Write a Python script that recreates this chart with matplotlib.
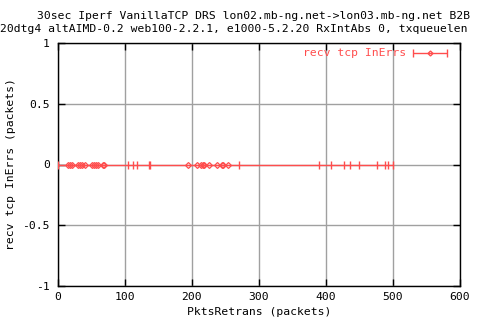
import matplotlib
matplotlib.use("Agg")
import matplotlib.pyplot as plt
import numpy as np

plt.rcParams['font.family'] = ['DejaVu Sans Mono']

# retransmitted packets (x) and receive errors (y)
pkts_diamond = [15, 18, 21, 30, 33, 36, 40, 51, 54, 57, 60, 67, 69,
                194, 207, 214, 216, 218, 225, 237, 245, 246, 253]
pkts_tick = [0, 104, 112, 118, 136, 137, 270, 390, 407, 427, 436, 449,
             476, 488, 492, 500]
in_errs_diamond = [0] * len(pkts_diamond)
in_errs_tick = [0] * len(pkts_tick)

x_ticks = [0, 100, 200, 300, 400, 500, 600]
y_ticks = [-1, -0.5, 0, 0.5, 1]
y_labels = ["-1", "-0.5", "0", "0.5", "1"]

title1 = "30sec Iperf VanillaTCP DRS lon02.mb-ng.net->lon03.mb-ng.net B2B"
title2 = "20dtg4 altAIMD-0.2 web100-2.2.1, e1000-5.2.20 RxIntAbs 0, txqueuelen"

red = "#ff4d4d"
fs = 8.2

fig = plt.figure(figsize=(4.8, 3.2), dpi=100)
ax = fig.add_axes([58 / 480, 34 / 320, 402 / 480, 243 / 320])

# connecting line through all points
all_x = sorted(pkts_diamond + pkts_tick)
ax.plot(all_x, [0] * len(all_x), color=red, linewidth=1, zorder=3)
ax.plot(pkts_diamond, in_errs_diamond, linestyle="none", marker="D",
        markersize=3, markerfacecolor="none", markeredgecolor=red,
        markeredgewidth=0.9, zorder=4)
ax.plot(pkts_tick, in_errs_tick, linestyle="none", marker="|",
        markersize=6, color=red, markeredgewidth=1, zorder=4)

ax.set_xlim(0, 600)
ax.set_ylim(-1, 1)
ax.set_xticks(x_ticks)
ax.set_yticks(y_ticks)
ax.set_yticklabels(y_labels)
ax.grid(True, color="#a0a0a0", linewidth=1)
ax.tick_params(direction="in", length=5, width=1, top=True, right=True,
               labelsize=fs)
ax.tick_params(axis="x", pad=4)
ax.tick_params(axis="y", pad=6)
for s in ax.spines.values():
    s.set_linewidth(1)

ax.set_xlabel("PktsRetrans (packets)", fontsize=fs)
ax.set_ylabel("recv tcp InErrs (packets)", fontsize=fs)
ax.xaxis.set_label_coords(0.5, -(312 - 286) / 243)
ax.yaxis.set_label_coords(-(58 - 11) / 402, 0.5)
ax.xaxis.label.set_va("center")
ax.yaxis.label.set_va("center")

fig.text(37 / 480, 1 - 16 / 320, title1, fontsize=fs, ha="left", va="center")
fig.text(0, 1 - 29 / 320, title2, fontsize=fs, ha="left", va="center")

# legend in gnuplot style
fig.text(406 / 480, 1 - 53 / 320, "recv tcp InErrs", color=red, fontsize=fs,
         ha="right", va="center")
ax.errorbar([((430 - 58) / 402) * 600], [1 - (53 - 43) / 243 * 2],
            xerr=[[(430 - 413) / 402 * 600], [(447 - 430) / 402 * 600]],
            color=red, marker="D", markersize=2.5, markerfacecolor="none",
            capsize=3, linewidth=1, clip_on=False)

fig.savefig("out.png", dpi=100)
